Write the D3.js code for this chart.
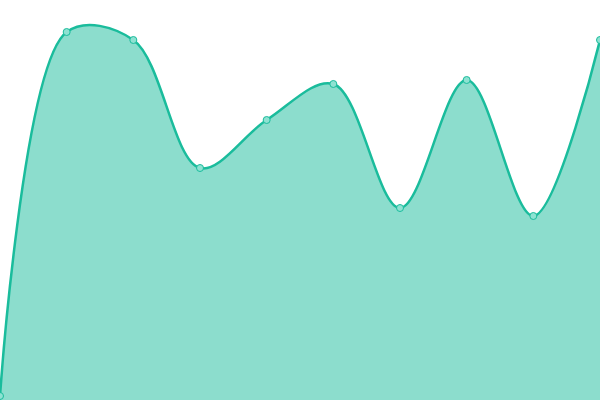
<!DOCTYPE html>
<html>
<head>
<meta charset="utf-8">
<script src="https://cdn.jsdelivr.net/npm/d3@7"></script>
<style>
  html, body { margin: 0; padding: 0; background: #fff; }
  svg { display: block; }
</style>
</head>
<body>
<svg width="600" height="400"></svg>
<script>
var width = 600;
var height = 400;

// one series, ten samples
var labels = ['1', '2', '3', '4', '5', '6', '7', '8', '9', '10'];
var values = [1, 92, 90, 58, 70, 79, 48, 80, 46, 90];

var lineColor = '#1abc9c';

var x = d3.scalePoint().domain(labels).range([0, width]);
var y = d3.scaleLinear().domain([0, 100]).range([height, 0]);

var data = labels.map(function(l, i){ return { label: l, value: values[i] }; });

var svg = d3.select('svg');

var area = d3.area()
  .curve(d3.curveCatmullRom)
  .x(function(d){ return x(d.label); })
  .y0(height)
  .y1(function(d){ return y(d.value); });

var line = d3.line()
  .curve(d3.curveCatmullRom)
  .x(function(d){ return x(d.label); })
  .y(function(d){ return y(d.value); });

svg.append('path')
  .datum(data)
  .attr('d', area)
  .attr('fill', lineColor)
  .attr('fill-opacity', 0.5);

svg.append('path')
  .datum(data)
  .attr('d', line)
  .attr('fill', 'none')
  .attr('stroke', lineColor)
  .attr('stroke-width', 2.5);

svg.selectAll('circle')
  .data(data)
  .enter().append('circle')
  .attr('cx', function(d){ return x(d.label); })
  .attr('cy', function(d){ return y(d.value); })
  .attr('r', 3.5)
  .attr('fill', '#8ee2d2')
  .attr('stroke', lineColor)
  .attr('stroke-width', 1);
</script>
</body>
</html>
